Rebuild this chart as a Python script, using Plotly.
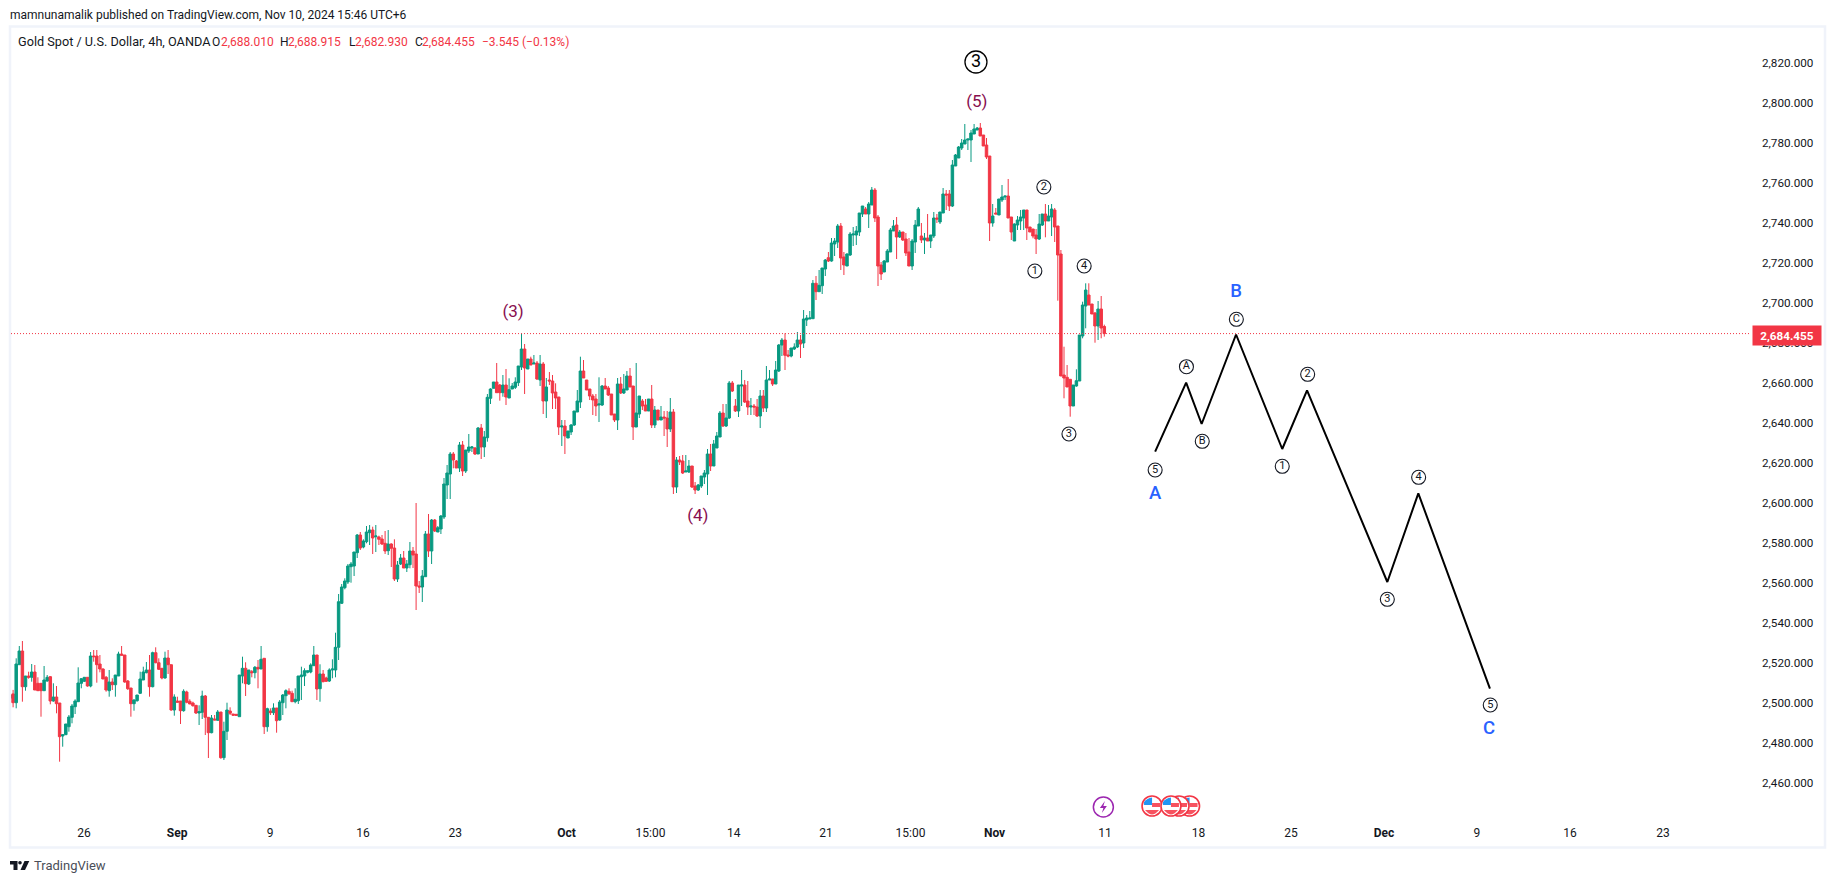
import plotly.graph_objects as go

# ---- 4h candles ----
bar_open = [
2502.1,2504.3,2499.9,2518.9,2525.75,2507.9,2513.25,2512.6,2515.25,2509.6,
2509.6,2505.9,2510.75,2512.9,2500.75,2502.75,2499.75,2483.25,2483.9,2487.9,
2492.6,2497.9,2500.4,2509.6,2510.6,2512.6,2508.25,2523.25,2523.25,2519.25,
2516.75,2512.6,2505.9,2510.25,2508.9,2513.25,2524.25,2523.75,2510.75,2507.25,
2499.4,2500.9,2504.6,2511.25,2514.9,2516.25,2507.9,2524.9,2519.9,2517.1,
2512.25,2522.25,2518.9,2496.25,2500.75,2500.75,2495.9,2505.25,2500.6,2499.75,
2498.6,2494.75,2495.1,2503.25,2492.6,2484.9,2491.75,2491.1,2495.25,2472.4,
2485.6,2495.75,2494.25,2494.1,2492.9,2513.25,2517.1,2509.25,2515.4,2514.9,
2517.6,2516.75,2522.1,2487.9,2495.75,2494.9,2497.25,2491.25,2499.9,2503.4,
2505.6,2504.6,2500.4,2500.9,2512.9,2513.25,2515.1,2515.25,2518.4,2523.75,
2506.9,2514.25,2512.25,2510.75,2516.25,2516.25,2527.6,2549.6,2557.4,2560.25,
2567.9,2568.25,2574.9,2583.75,2577.75,2580.4,2584.9,2586.25,2582.9,2582.75,
2581.75,2579.6,2575.9,2579.25,2577.25,2561.75,2569.25,2572.25,2567.25,2568.9,
2575.75,2574.25,2558.25,2557.75,2562.9,2584.25,2575.75,2591.25,2585.25,2586.75,
2592.75,2608.75,2614.25,2624.25,2620.75,2617.25,2628.75,2615.75,2625.75,2627.25,
2627.25,2624.25,2637.25,2627.75,2632.4,2652.1,2657.1,2660.25,2658.75,2654.9,
2658.75,2652.25,2656.75,2657.6,2659.9,2667.75,2676.75,2666.75,2671.75,2669.25,
2669.75,2661.25,2669.25,2650.75,2661.25,2660.75,2655.25,2652.75,2637.75,2638.25,
2632.25,2635.25,2638.75,2645.25,2650.25,2665.75,2661.25,2656.75,2653.25,2651.75,
2648.75,2648.75,2658.25,2657.25,2654.25,2644.25,2641.25,2659.25,2654.75,2656.25,
2663.25,2658.25,2637.75,2644.25,2650.75,2648.75,2645.75,2651.75,2638.75,2646.25,
2641.25,2642.75,2642.25,2636.75,2645.25,2607.75,2621.25,2620.75,2615.25,2615.25,
2618.25,2608.25,2606.25,2608.25,2612.75,2614.25,2624.25,2618.25,2627.25,2632.75,
2644.75,2638.25,2642.25,2659.75,2648.25,2645.75,2658.25,2658.75,2650.75,2647.75,
2648.25,2647.75,2643.25,2653.25,2647.25,2661.25,2661.75,2659.25,2665.75,2678.75,
2681.25,2673.75,2673.25,2676.75,2677.75,2681.25,2679.75,2691.25,2691.75,2691.9,
2709.6,2705.4,2708.4,2716.75,2722.4,2720.75,2729.25,2730.25,2738.25,2722.75,
2718.25,2723.75,2733.75,2733.75,2735.25,2744.25,2746.75,2744.25,2748.75,2756.25,
2742.75,2718.75,2715.25,2720.25,2725.25,2735.75,2738.75,2732.75,2735.25,2731.75,
2725.25,2718.25,2730.25,2738.25,2733.25,2731.25,2732.25,2730.75,2733.25,2742.25,
2740.25,2744.75,2754.25,2754.25,2748.25,2768.25,2772.25,2777.25,2779.25,2781.25,
2781.25,2784.25,2786.25,2787.25,2783.75,2778.75,2773.25,2739.75,2744.75,2743.75,
2751.25,2752.75,2753.25,2742.75,2730.75,2738.75,2740.75,2742.25,2746.25,2737.75,
2736.75,2733.75,2731.75,2738.75,2744.25,2740.75,2742.75,2746.25,2738.25,2724.25,
2663.75,2662.6,2661.6,2648.25,2658.25,2660.75,2683.25,2698.25,2703.75,2699.25,
2694.75,2688.25,2696.75,2688.01]

bar_high = [
2506.25,2506.3,2522.1,2528.25,2530.75,2513.25,2515.4,2519.25,2518.75,2512.6,
2509.6,2518.25,2513.75,2513.25,2509.6,2508.25,2499.75,2483.9,2489.25,2493.75,
2499.25,2501.6,2517.6,2512.25,2512.6,2512.6,2525.25,2526.25,2526.25,2523.75,
2517.1,2513.25,2516.25,2512.1,2513.75,2525.4,2528.25,2523.75,2511.25,2507.25,
2501.6,2503.75,2515.4,2517.9,2520.25,2523.75,2525.4,2527.6,2522.1,2517.1,
2525.4,2526.25,2518.9,2504.1,2502.9,2500.75,2506.6,2505.9,2501.6,2500.4,
2498.6,2498.6,2505.9,2503.75,2492.6,2493.75,2493.75,2496.25,2495.25,2490.4,
2499.9,2497.6,2494.25,2494.1,2513.75,2522.9,2520.1,2516.25,2516.25,2518.25,
2521.25,2528.25,2522.1,2497.4,2497.1,2499.6,2497.25,2501.25,2504.25,2506.6,
2507.1,2505.9,2507.1,2513.25,2517.9,2517.1,2515.9,2519.6,2528.25,2523.75,
2519.1,2516.25,2512.9,2517.1,2521.6,2534.9,2554.25,2559.25,2562.1,2569.25,
2570.25,2575.25,2584.25,2585.25,2581.6,2588.25,2588.75,2587.9,2588.75,2583.4,
2583.75,2585.75,2586.25,2579.6,2581.6,2570.75,2574.25,2575.75,2571.25,2580.25,
2577.75,2599.75,2560.75,2566.25,2585.75,2594.25,2591.75,2591.75,2588.25,2593.75,
2612.25,2618.75,2625.25,2625.25,2621.25,2630.25,2630.75,2626.25,2634.25,2628.25,
2627.75,2637.75,2639.25,2635.75,2654.25,2657.1,2660.25,2669.75,2659.25,2663.75,
2666.75,2662.1,2659.75,2662.6,2668.25,2684.6,2679.25,2671.75,2672.9,2673.75,
2670.75,2673.75,2670.25,2662.25,2665.25,2663.75,2659.6,2652.75,2641.25,2641.25,
2635.75,2639.25,2645.75,2656.25,2672.9,2671.25,2661.25,2656.75,2654.25,2654.25,
2662.6,2658.75,2662.25,2658.25,2654.25,2644.25,2662.25,2662.75,2664.25,2665.75,
2667.25,2658.25,2669.75,2653.25,2651.75,2651.75,2651.75,2658.75,2648.25,2646.25,
2648.25,2645.75,2645.75,2652.25,2646.75,2622.75,2623.25,2623.75,2623.75,2621.25,
2618.25,2610.25,2609.25,2613.25,2616.25,2626.75,2629.25,2631.25,2635.25,2645.75,
2649.25,2649.25,2660.75,2660.75,2651.75,2658.75,2666.25,2661.25,2660.75,2652.25,
2649.25,2651.75,2656.25,2656.25,2668.25,2666.25,2661.75,2670.75,2679.25,2682.25,
2684.6,2676.25,2677.25,2679.6,2685.25,2683.75,2696.25,2693.75,2695.75,2711.25,
2713.25,2716.25,2717.25,2721.75,2725.25,2732.25,2732.25,2739.25,2739.75,2725.25,
2724.6,2735.25,2737.75,2738.25,2744.75,2748.25,2747.75,2750.25,2757.75,2757.25,
2743.75,2720.25,2721.25,2726.75,2737.25,2741.25,2742.75,2736.25,2735.25,2734.75,
2732.25,2731.75,2741.25,2747.75,2739.75,2734.75,2744.25,2733.75,2745.25,2744.25,
2745.25,2757.25,2756.25,2756.25,2771.25,2774.25,2778.25,2781.75,2789.25,2781.75,
2786.25,2789.25,2787.75,2789.75,2783.75,2782.25,2773.25,2749.25,2747.25,2751.75,
2758.75,2753.25,2761.75,2742.75,2739.6,2743.25,2746.25,2746.25,2746.25,2737.75,
2736.75,2736.75,2744.25,2744.25,2749.25,2748.75,2749.25,2747.25,2738.25,2726.25,
2677.9,2668.75,2661.6,2658.75,2666.6,2683.75,2700.4,2709.6,2709.6,2699.25,
2695.25,2700.75,2703.25,2688.915]

bar_low = [
2501.25,2497.6,2497.1,2518.9,2500.4,2505.9,2511.9,2510.4,2506.25,2505.9,
2492.9,2505.9,2510.4,2499.1,2500.4,2494.6,2470.4,2477.9,2483.75,2485.4,
2489.6,2494.25,2500.4,2507.1,2510.25,2507.9,2507.6,2520.4,2509.9,2515.1,
2511.75,2505.4,2502.9,2506.25,2502.9,2513.25,2523.6,2509.9,2506.25,2492.9,
2495.9,2500.4,2504.25,2511.25,2514.6,2502.9,2507.6,2519.6,2516.25,2511.6,
2511.9,2514.25,2495.9,2493.4,2500.1,2489.25,2495.4,2499.6,2499.25,2497.9,
2494.25,2488.75,2491.75,2483.75,2472.25,2484.6,2491.25,2490.9,2471.9,2471.25,
2481.25,2493.75,2493.6,2493.6,2492.9,2509.6,2503.25,2508.75,2512.6,2512.1,
2507.1,2516.75,2484.25,2485.4,2493.75,2493.75,2484.9,2490.9,2493.75,2497.1,
2503.75,2500.4,2499.6,2499.25,2501.25,2508.25,2514.6,2514.6,2518.4,2501.25,
2500.4,2510.1,2510.25,2510.25,2512.1,2512.6,2521.25,2549.25,2556.6,2559.25,
2559.9,2563.25,2572.25,2576.25,2577.1,2579.6,2578.75,2574.25,2575.25,2578.75,
2578.75,2574.25,2573.75,2567.75,2560.75,2560.25,2568.75,2567.25,2565.25,2567.1,
2567.25,2546.25,2554.75,2550.25,2562.9,2572.75,2569.25,2585.25,2585.25,2584.25,
2591.75,2601.75,2601.75,2617.1,2617.25,2615.25,2613.25,2614.75,2624.75,2625.25,
2623.75,2624.25,2621.75,2622.75,2630.4,2649.25,2657.1,2654.9,2650.9,2652.9,
2648.75,2652.25,2656.75,2656.75,2658.25,2666.25,2654.25,2666.75,2668.75,2669.25,
2661.25,2658.25,2644.25,2642.25,2658.75,2646.75,2646.75,2633.75,2628.25,2624.25,
2632.25,2633.75,2638.25,2645.25,2647.25,2662.25,2656.25,2651.25,2643.75,2643.25,
2640.25,2648.25,2656.75,2653.25,2643.75,2640.25,2636.25,2654.25,2654.25,2656.25,
2657.75,2631.25,2637.75,2642.25,2646.25,2645.75,2645.75,2637.25,2637.25,2641.25,
2641.25,2633.25,2627.75,2635.25,2604.25,2604.75,2618.75,2614.25,2615.25,2614.75,
2607.25,2604.25,2605.75,2607.25,2609.25,2603.75,2615.75,2618.25,2627.25,2632.75,
2637.75,2637.75,2641.75,2655.25,2645.25,2642.75,2648.25,2649.75,2643.75,2643.75,
2643.75,2642.75,2637.25,2645.25,2645.25,2661.25,2658.25,2659.25,2665.25,2673.25,
2666.25,2672.6,2672.6,2676.25,2677.25,2672.25,2677.25,2688.25,2691.75,2691.9,
2701.25,2705.4,2704.25,2713.25,2720.25,2720.4,2723.25,2727.25,2716.25,2713.75,
2718.25,2723.25,2728.25,2728.75,2733.25,2742.75,2744.25,2737.25,2748.75,2740.25,
2708.25,2711.25,2715.25,2720.25,2725.25,2735.75,2721.75,2732.25,2730.75,2723.25,
2718.25,2716.25,2724.75,2738.25,2729.75,2724.25,2730.75,2727.25,2732.25,2739.75,
2739.25,2744.75,2746.25,2745.75,2747.75,2768.25,2772.25,2776.25,2779.25,2776.25,
2770.25,2784.25,2786.25,2783.25,2778.25,2771.75,2730.75,2737.9,2744.25,2743.75,
2750.25,2751.25,2742.25,2731.25,2730.75,2736.25,2736.25,2736.25,2731.25,2735.25,
2732.1,2724.25,2731.25,2738.25,2732.6,2740.75,2733.25,2730.25,2700.9,2663.25,
2652.1,2657.75,2642.9,2648.25,2657.9,2660.75,2682.1,2687.1,2698.75,2694.25,
2679.9,2681.25,2682.1,2682.93]

bar_close = [
2503.8,2499.9,2519.25,2525.75,2507.9,2513.25,2512.6,2515.25,2506.25,2505.9,
2505.9,2511.25,2512.6,2500.75,2502.75,2499.4,2482.9,2483.9,2489.25,2492.75,
2498.25,2500.75,2509.75,2511.9,2512.6,2508.25,2523.25,2522.9,2518.9,2516.75,
2511.75,2506.25,2510.25,2508.9,2513.75,2524.25,2523.6,2510.25,2506.9,2499.4,
2501.25,2503.75,2511.75,2515.25,2516.25,2507.9,2524.9,2519.9,2516.6,2512.25,
2522.25,2518.9,2496.25,2502.75,2500.1,2495.9,2505.6,2500.1,2499.25,2498.4,
2494.75,2495.4,2503.25,2492.6,2484.9,2492.25,2491.25,2495.25,2472.4,2485.6,
2496.25,2494.6,2493.6,2493.6,2513.75,2517.1,2509.4,2516.25,2514.9,2517.6,
2516.75,2521.6,2487.9,2496.9,2494.9,2497.25,2490.9,2500.25,2503.75,2505.9,
2504.4,2500.4,2501.6,2513.25,2513.75,2515.9,2515.9,2518.75,2523.75,2506.75,
2514.25,2510.4,2510.6,2516.25,2516.75,2527.6,2550.4,2557.75,2560.75,2568.25,
2569.25,2575.25,2583.75,2577.25,2580.75,2585.25,2586.25,2582.25,2583.25,2581.6,
2579.25,2575.75,2579.25,2577.1,2561.75,2568.75,2572.25,2567.25,2569.25,2575.75,
2573.75,2558.25,2557.75,2563.25,2584.25,2575.75,2591.25,2585.75,2587.4,2593.25,
2609.25,2614.75,2624.25,2621.25,2617.25,2628.75,2615.75,2626.25,2627.75,2627.75,
2624.25,2637.25,2627.75,2632.75,2652.6,2656.75,2660.25,2654.9,2654.9,2658.75,
2652.75,2656.4,2658.25,2660.25,2668.25,2676.75,2667.25,2671.75,2668.75,2669.75,
2661.75,2669.25,2650.75,2657.75,2660.75,2654.75,2652.25,2637.75,2638.25,2633.25,
2635.75,2638.75,2645.75,2650.75,2665.75,2662.25,2656.25,2653.25,2651.25,2648.25,
2649.25,2658.25,2656.75,2653.75,2643.75,2641.25,2659.25,2654.75,2656.75,2663.25,
2657.75,2637.75,2644.75,2653.25,2648.25,2645.75,2651.75,2638.75,2646.25,2641.25,
2642.75,2642.25,2636.75,2645.25,2607.75,2621.25,2620.25,2614.75,2615.75,2618.25,
2607.75,2606.25,2608.75,2613.25,2614.75,2624.25,2618.25,2629.25,2633.25,2644.75,
2638.25,2642.25,2659.75,2655.75,2645.75,2658.75,2658.75,2650.25,2647.75,2648.25,
2647.75,2643.25,2653.25,2647.25,2661.25,2661.75,2659.25,2666.25,2678.75,2681.25,
2673.6,2673.25,2677.25,2677.75,2681.25,2679.25,2691.75,2692.25,2692.25,2709.6,
2705.4,2708.6,2717.25,2721.25,2720.75,2729.75,2730.75,2738.25,2722.25,2718.75,
2724.25,2734.25,2734.25,2735.75,2744.75,2748.25,2744.25,2749.25,2756.25,2742.25,
2718.25,2714.25,2720.75,2725.75,2736.25,2738.25,2732.75,2735.25,2731.25,2724.75,
2718.25,2730.75,2738.75,2746.75,2731.25,2732.25,2730.75,2733.75,2742.25,2741.75,
2745.25,2754.25,2753.75,2748.25,2768.75,2773.75,2777.75,2779.75,2781.25,2781.75,
2784.75,2786.75,2787.25,2783.25,2778.25,2772.75,2739.75,2743.25,2744.25,2751.75,
2752.75,2753.25,2742.25,2735.25,2739.25,2741.25,2742.75,2746.25,2737.25,2735.25,
2733.25,2731.75,2739.25,2744.25,2740.75,2743.25,2746.75,2737.75,2723.75,2663.25,
2662.25,2657.75,2648.25,2658.75,2660.9,2683.75,2698.75,2706.25,2698.75,2694.25,
2688.25,2696.75,2687.25,2684.455]

bar_index = list(range(len(bar_close)))
last_price = 2684.455

# ---- time axis (positions in bar numbers, beyond the last bar = projected time) ----
tick_pos = [23.9, 53.9, 83.9, 113.9, 143.6, 179.5, 206.6, 233.5, 263.2, 290.5, 317.6, 353.2,
            383.4, 413.2, 443.2, 473.2, 503.2, 533.2]
tick_text = ["26", "<b>Sep</b>", "9", "16", "23", "<b>Oct</b>", "15:00", "14", "21", "15:00",
             "<b>Nov</b>", "11", "18", "25", "<b>Dec</b>", "9", "16", "23"]
price_ticks = [2460, 2480, 2500, 2520, 2540, 2560, 2580, 2600, 2620, 2640, 2660, 2680, 2700,
               2720, 2740, 2760, 2780, 2800, 2820]

# ---- projected wave path ----
wave_x = [369.4, 379.4, 384.4, 395.5, 410.4, 418.4, 444.3, 454.3, 477.4]
wave_y = [2625.4, 2659.9, 2639.25, 2684.0, 2626.75, 2656.1, 2560.25, 2604.6, 2506.9]

# ---- wave labels ----
small_x = [333.5, 330.6, 346.5, 341.6, 369.4, 379.5, 384.6, 395.6, 410.4, 418.6, 444.3, 454.4, 477.5]
small_y = [2757.75, 2715.75, 2718.25, 2634.25, 2616.25, 2667.9, 2630.6, 2691.6, 2618.1, 2664.1, 2551.6, 2612.6, 2498.75]
small_text = ["2", "1", "4", "3", "5", "A", "B", "C", "1", "2", "3", "4", "5"]
big_x = [311.6]
big_y = [2820.25]
big_text = ["3"]
paren_x = [162.3, 221.9, 311.9]
paren_y = [2694.75, 2592.75, 2799.75]
paren_text = ["(3)", "(4)", "(5)"]
abc_x = [369.4, 395.5, 477.1]
abc_y = [2604.25, 2705.25, 2486.6]
abc_text = ["A", "B", "C"]

# ---- event icons on the time axis ----
bolt_x = 352.7
bolt_y = 2447.75
flag_x = [380.5, 377.1, 368.4, 374.5]
flag_y = 2448.25

# ---- page geometry ----
W, H = 1835, 883
L, R, T, B = 11, 1750, 26, 820
PX0, PX_STEP = 10.0, 3.1
P_TOP, P_PX = 2820.0, 2.0
P_Y = 62.5
xr = [(L - PX0) / PX_STEP, (R - PX0) / PX_STEP]
yr = [P_TOP - (B - P_Y) / P_PX, P_TOP - (T - P_Y) / P_PX]


def px(x):
    return (x - L) / (R - L)


def py(y):
    return (B - y) / (B - T)


UP, DOWN, INK = "#089981", "#f23645", "#131722"
FONT = "Roboto"
fig = go.Figure()

fig.add_trace(go.Candlestick(
    x=bar_index, open=bar_open, high=bar_high, low=bar_low, close=bar_close,
    increasing=dict(line=dict(color=UP, width=1), fillcolor=UP),
    decreasing=dict(line=dict(color=DOWN, width=1), fillcolor=DOWN),
    whiskerwidth=0, hoverinfo="skip", showlegend=False))

fig.add_trace(go.Scatter(x=wave_x, y=wave_y, mode="lines",
                         line=dict(color="#000000", width=2), hoverinfo="skip"))
fig.add_trace(go.Scatter(x=small_x, y=small_y, mode="markers+text", text=small_text,
                         textposition="middle center",
                         textfont=dict(family=FONT, size=11, color="#131722"),
                         marker=dict(size=14, color="#ffffff", line=dict(color="#131722", width=1.1)),
                         hoverinfo="skip"))
fig.add_trace(go.Scatter(x=big_x, y=big_y, mode="markers+text", text=big_text,
                         textposition="middle center",
                         textfont=dict(family=FONT, size=18, color="#000000"),
                         marker=dict(size=22, color="#ffffff", line=dict(color="#000000", width=1.3)),
                         hoverinfo="skip"))
fig.add_trace(go.Scatter(x=paren_x, y=paren_y, mode="text", text=paren_text,
                         textposition="middle center",
                         textfont=dict(family=FONT, size=17, color="#880e4f"), hoverinfo="skip"))
fig.add_trace(go.Scatter(x=abc_x, y=abc_y, mode="text", text=abc_text,
                         textposition="middle center",
                         textfont=dict(family=FONT, size=18.5, color="#2962ff", weight=500), hoverinfo="skip"))

shapes = [
    # last-price line
    dict(type="line", xref="paper", x0=0, x1=1, yref="y", y0=last_price, y1=last_price,
         line=dict(color=DOWN, width=1, dash="1px,2px"), layer="above"),
    # chart frame
    dict(type="rect", xref="paper", yref="paper", x0=px(10), x1=px(1825), y0=py(847.5), y1=py(26.5),
         line=dict(color="#f0f3fa", width=2.5), layer="below"),
]


def pix_path(points_close, xa, ya, color):
    return dict(type="path", xref="x", yref="y", xsizemode="pixel", ysizemode="pixel",
                xanchor=xa, yanchor=ya, path=points_close, fillcolor=color,
                line=dict(width=0), layer="above")


for fx in flag_x:
    shapes.append(dict(type="circle", xref="x", yref="y", xsizemode="pixel", ysizemode="pixel",
                       xanchor=fx, yanchor=flag_y, x0=-10, x1=10, y0=-10, y1=10,
                       fillcolor="#ffffff", line=dict(color=DOWN, width=1.6), layer="above"))
    shapes.append(pix_path("M-8,1 L-8,4 Q-5,8 0,8.5 L0,1 Z", fx, flag_y, "#2196f3"))
    shapes.append(pix_path("M0,3 L8,3 L8,-1 L0,-1 Z", fx, flag_y, "#f7525f"))
    shapes.append(pix_path("M-7,-4 L7,-4 Q3,-8.5 0,-8.5 Q-3,-8.5 -7,-4 Z", fx, flag_y, "#f7525f"))

shapes.append(dict(type="circle", xref="x", yref="y", xsizemode="pixel", ysizemode="pixel",
                   xanchor=bolt_x, yanchor=bolt_y, x0=-10, x1=10, y0=-10, y1=10,
                   fillcolor="#ffffff", line=dict(color="#9c27b0", width=1.5), layer="above"))
shapes.append(pix_path("M1.5,6 L-3.5,-1 L0,-1 L-1.5,-6 L3.5,1 L0,1 Z", bolt_x, bolt_y, "#9c27b0"))

# TradingView mark under the chart
for p in ["M0,0 L7.5,0 L7.5,-9 L3.5,-9 L3.5,-3.4 L0,-3.4 Z",
          "M14.5,0 L19.3,0 L15,-9 L10.5,-9 Z"]:
    shapes.append(dict(type="path", xref="paper", yref="paper", xsizemode="pixel", ysizemode="pixel",
                       xanchor=px(10), yanchor=py(861), path=p, fillcolor=INK, line=dict(width=0)))
shapes.append(dict(type="circle", xref="paper", yref="paper", xsizemode="pixel", ysizemode="pixel",
                   xanchor=px(20), yanchor=py(862.8), x0=-1.8, x1=1.8, y0=-1.8, y1=1.8,
                   fillcolor=INK, line=dict(width=0)))

header = "mamnunamalik published on TradingView.com, Nov 10, 2024 15:46 UTC+6"
legend_name = "Gold Spot / U.S. Dollar, 4h, OANDA"


def note(text, x, y, size=12, color=INK, anchor="left", **kw):
    return dict(text=text, xref="paper", yref="paper", x=px(x - 1), y=py(y), xanchor=anchor, yanchor="middle",
                showarrow=False, font=dict(family=FONT, size=size, color=color), **kw)


annotations = [
    note(header, 9, 15, 12),
    note(legend_name, 17, 42, 12.7),
    note("O", 211, 42, 12),
    note("2,688.010", 220, 42, 12, DOWN),
    note("H", 279, 42, 12),
    note("2,688.915", 287, 42, 12, DOWN),
    note("L", 348, 42, 12),
    note("2,682.930", 354, 42, 12, DOWN),
    note("C", 414, 42, 12),
    note("2,684.455", 421, 42, 12, DOWN),
    note("\u22123.545 (\u22120.13%)", 481, 42, 12, DOWN),
    note("TradingView", 33, 865.5, 13, "#4a4e58"),
    dict(text="<b>2,684.455</b>", xref="paper", yref="y", x=px(1787), y=last_price, xanchor="center",
         yanchor="middle", yshift=-1.5, showarrow=False, width=66, height=17, bgcolor=DOWN,
         font=dict(family=FONT, size=11.7, color="#ffffff")),
]

fig.update_layout(
    width=W, height=H, autosize=False,
    margin=dict(l=L, r=W - R, t=T, b=H - B, pad=0),
    paper_bgcolor="#ffffff", plot_bgcolor="#ffffff",
    showlegend=False, hovermode=False, boxgap=0.2, boxgroupgap=0.0,
    shapes=shapes, annotations=annotations,
    xaxis=dict(range=xr, tickmode="array", tickvals=tick_pos, ticktext=tick_text,
               showgrid=False, zeroline=False, showline=False, ticks="",
               ticklabelstandoff=4, rangeslider=dict(visible=False),
               tickfont=dict(family=FONT, size=12, color=INK)),
    yaxis=dict(range=yr, side="right", tickmode="array", tickvals=price_ticks, tickformat=",.3f",
               showgrid=False, zeroline=False, showline=False, ticks="",
               ticklabelstandoff=11,
               tickfont=dict(family=FONT, size=11.7, color=INK)),
)

fig.write_html("out.html", config=dict(displayModeBar=False),
               post_script="document.body.style.margin='0';document.body.style.overflow='hidden';")
